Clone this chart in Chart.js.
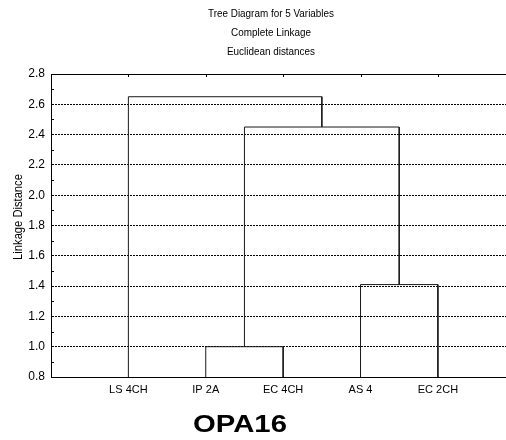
<!DOCTYPE html>
<html>
<head>
<meta charset="utf-8">
<script src="https://cdn.jsdelivr.net/npm/chart.js@4.4.0/dist/chart.umd.min.js"></script>
<style>
    html, body { margin: 0; padding: 0; background: #fff; overflow: hidden; }
    #wrap { width: 506px; height: 440px; }
</style>
</head>
<body>
<div id="wrap"><canvas id="treeChart" width="506" height="440"></canvas></div>
<script>
// leaves, left to right
const leafNames = ['LS 4CH', 'IP 2A', 'EC 4CH', 'AS 4', 'EC 2CH'];
// merge steps: node A + node B joined at a distance (new nodes are numbered 5, 6, 7, 8)
const mergeA = [1, 3, 5, 0];
const mergeB = [2, 4, 6, 7];
const mergeDist = [1.0, 1.41, 2.45, 2.65];
// y axis ticks
const yTicks = [0.8, 1.0, 1.2, 1.4, 1.6, 1.8, 2.0, 2.2, 2.4, 2.6, 2.8];
const titleLines = ['Tree Diagram for 5 Variables', 'Complete Linkage', 'Euclidean distances'];
const yTitle = 'Linkage Distance';
const caption = 'OPA16';

const yMin = yTicks[0];
const yMax = yTicks[yTicks.length - 1];

// build the links of the tree
const nodeX = leafNames.map((n, i) => i + 1);
const nodeH = leafNames.map(() => yMin);
const links = [];
mergeA.forEach((a, k) => {
    const b = mergeB[k];
    const d = mergeDist[k];
    links.push({
        data: [
            { x: nodeX[a], y: nodeH[a] },
            { x: nodeX[a], y: d },
            { x: nodeX[b], y: d },
            { x: nodeX[b], y: nodeH[b] }
        ],
        showLine: true,
        borderColor: '#1a1a1a',
        borderWidth: 1,
        pointRadius: 0,
        tension: 0
    });
    nodeX.push((nodeX[a] + nodeX[b]) / 2);
    nodeH.push(d);
});

const sans = '"Liberation Sans", Arial, sans-serif';

// extra drawing: titles, axis title, small ticks, caption
const extrasPlugin = {
    id: 'extras',
    afterDraw(chart) {
        const ctx = chart.ctx;
        const area = chart.chartArea;
        const xs = chart.scales.x;
        const ys = chart.scales.y;
        ctx.save();
        ctx.strokeStyle = '#000';
        ctx.lineWidth = 1;

        // ticks on the top border
        leafNames.forEach((n, i) => {
            const px = Math.round(xs.getPixelForValue(i + 1)) + 0.5;
            ctx.beginPath();
            ctx.moveTo(px, area.top);
            ctx.lineTo(px, area.top + 3);
            ctx.stroke();
        });
        // minor ticks on the left axis
        for (let i = 0; i < yTicks.length - 1; i++) {
            const py = Math.round(ys.getPixelForValue((yTicks[i] + yTicks[i + 1]) / 2)) + 0.5;
            ctx.beginPath();
            ctx.moveTo(area.left, py);
            ctx.lineTo(area.left + 3, py);
            ctx.stroke();
        }

        ctx.fillStyle = '#000';
        ctx.textAlign = 'center';
        ctx.textBaseline = 'middle';
        ctx.font = '11px ' + sans;
        titleLines.forEach((t, i) => {
            ctx.save();
            ctx.translate(271, 14 + i * 19);
            ctx.scale(0.9, 1);
            ctx.fillText(t, 0, 0);
            ctx.restore();
        });

        ctx.save();
        ctx.translate(18, 217);
        ctx.rotate(-Math.PI / 2);
        ctx.scale(0.86, 1);
        ctx.font = '13px ' + sans;
        ctx.fillText(yTitle, 0, 0);
        ctx.restore();

        ctx.save();
        ctx.translate(240, 432);
        ctx.scale(1.22, 1);
        ctx.textBaseline = 'alphabetic';
        ctx.font = 'bold 24px ' + sans;
        ctx.fillText(caption, 0, 0);
        ctx.restore();

        ctx.restore();
    }
};

const ctx = document.getElementById('treeChart').getContext('2d');
const treeChart = new Chart(ctx, {
    type: 'scatter',
    data: { datasets: links },
    options: {
        responsive: false,
        animation: false,
        layout: { padding: { top: 74, right: 0, bottom: 0, left: 0 } },
        plugins: {
            legend: { display: false },
            tooltip: { enabled: false },
            title: { display: false }
        },
        scales: {
            x: {
                type: 'linear',
                min: 0,
                max: 5.88,
                afterBuildTicks: scale => {
                    scale.ticks = leafNames.map((n, i) => ({ value: i + 1 }));
                },
                afterFit: scale => { scale.height = 63; },
                grid: { display: false, drawTicks: false },
                border: { display: true, color: '#000', width: 1 },
                ticks: {
                    autoSkip: false,
                    maxRotation: 0,
                    padding: 6,
                    color: '#000',
                    font: { family: sans, size: 11 },
                    callback: v => leafNames[v - 1]
                }
            },
            y: {
                min: yMin,
                max: yMax,
                afterBuildTicks: scale => {
                    scale.ticks = yTicks.map(v => ({ value: v }));
                },
                afterFit: scale => { scale.width = 51; },
                grid: { color: '#000', lineWidth: 1, drawTicks: false },
                border: {
                    display: true,
                    color: '#000',
                    width: 1,
                    dash: c => (c.tick && c.tick.value >= yMax ? [] : [2, 1])
                },
                ticks: {
                    padding: 6,
                    color: '#000',
                    font: { family: sans, size: 12 },
                    callback: v => v.toFixed(1)
                }
            }
        }
    },
    plugins: [extrasPlugin]
});
</script>
</body>
</html>
